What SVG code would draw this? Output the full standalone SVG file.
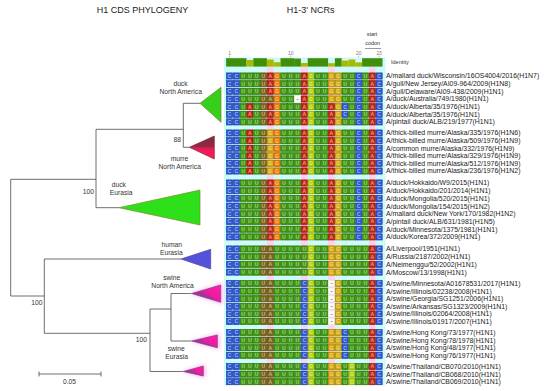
<svg xmlns="http://www.w3.org/2000/svg" width="550" height="391" viewBox="0 0 550 391">
<style>
text{font-family:"Liberation Sans",Arial,sans-serif}
.ttl{font-size:9px;fill:#222}
.tl{font-size:6.7px;fill:#333;text-anchor:middle}
.bs{font-size:6.7px;fill:#333;text-anchor:end}
.lab{font-size:6.9px;fill:#222}
.num{font-size:4.8px;fill:#777;text-anchor:middle}
.sc{font-size:5.5px;fill:#333;text-anchor:middle}
.idl{font-size:5.5px;fill:#333}
.br{stroke:#4a4a4a;stroke-width:0.8;fill:none}
.tk{stroke:#777;stroke-width:0.5}
.nt{font-size:5.2px;font-weight:bold;text-anchor:middle;fill:#fff;fill-opacity:.55}
.ng{font-size:5.2px;font-weight:bold;text-anchor:middle;fill:#444}
.k{stroke-width:.6}
.cC{fill:#2c58d8;stroke:#1b3a9e}
.cU{fill:#3c9a0a;stroke:#2a6e00}
.cA{fill:#c42010;stroke:#8c1200}
.cG{fill:#d8aa00;stroke:#a27c00}
.cGo{fill:#ee7c00;stroke:#b05a00}
.cGy{fill:#b4d000;stroke:#86a000}
.cO{fill:#7a6412;stroke:#56460a}
.cGp{fill:#fafafa;stroke:#e4e4e4}
.idf{fill:#3f8f0a}
.idp{fill:#a6ba00}
.pk{fill:#fbd3ea}
</style>
<defs>
<linearGradient id="gMur" x1="0" y1="0" x2="0" y2="1"><stop offset="0" stop-color="#7d2c3e"/><stop offset=".45" stop-color="#8e2a44"/><stop offset=".55" stop-color="#ee1a55"/><stop offset="1" stop-color="#ff1a5a"/></linearGradient>
<linearGradient id="gSw" x1="0" y1="1" x2="1" y2="0"><stop offset="0" stop-color="#8e3c9e"/><stop offset=".45" stop-color="#a83298"/><stop offset=".55" stop-color="#f01aa0"/><stop offset="1" stop-color="#ff20a8"/></linearGradient>
<filter id="blur" x="-30%" y="-30%" width="160%" height="160%"><feGaussianBlur stdDeviation="2"/></filter>
<g id="C"><rect class="cC k" x="0.3" y="-3.1" width="6.2" height="6.2"/><text class="nt" x="3.4" y="1.9">C</text></g>
<g id="U"><rect class="cU k" x="0.3" y="-3.1" width="6.2" height="6.2"/><text class="nt" x="3.4" y="1.9">U</text></g>
<g id="A"><rect class="cA k" x="0.3" y="-3.1" width="6.2" height="6.2"/><text class="nt" x="3.4" y="1.9">A</text></g>
<g id="G"><rect class="cG k" x="0.3" y="-3.1" width="6.2" height="6.2"/><text class="nt" x="3.4" y="1.9">G</text></g>
<g id="Go"><rect class="cGo k" x="0.3" y="-3.1" width="6.2" height="6.2"/><text class="nt" x="3.4" y="1.9">G</text></g>
<g id="Gy"><rect class="cGy k" x="0.3" y="-3.1" width="6.2" height="6.2"/><text class="nt" x="3.4" y="1.9">G</text></g>
<g id="Uo"><rect class="cO k" x="0.3" y="-3.1" width="6.2" height="6.2"/><text class="nt" x="3.4" y="1.9">U</text></g>
<g id="Ao"><rect class="cO k" x="0.3" y="-3.1" width="6.2" height="6.2"/><text class="nt" x="3.4" y="1.9">A</text></g>
<g id="Gp"><rect class="cGp k" x="0.3" y="-3.1" width="6.2" height="6.2"/><text class="ng" x="3.4" y="1.9">-</text></g>
<g id="rMal"><use href="#C" x="226.1"/><use href="#C" x="232.9"/><use href="#U" x="239.7"/><use href="#U" x="246.5"/><use href="#U" x="253.3"/><use href="#Uo" x="260.1"/><use href="#A" x="266.9"/><use href="#Go" x="273.7"/><use href="#U" x="280.5"/><use href="#U" x="287.3"/><use href="#U" x="294.1"/><use href="#A" x="300.9"/><use href="#Gy" x="307.7"/><use href="#U" x="314.5"/><use href="#U" x="321.3"/><use href="#G" x="328.1"/><use href="#G" x="334.9"/><use href="#U" x="341.7"/><use href="#U" x="348.5"/><use href="#C" x="355.3"/><use href="#U" x="362.1"/><use href="#A" x="368.9"/><use href="#C" x="375.7"/></g>
<g id="rAus"><use href="#C" x="226.1"/><use href="#C" x="232.9"/><use href="#U" x="239.7"/><use href="#U" x="246.5"/><use href="#U" x="253.3"/><use href="#Uo" x="260.1"/><use href="#Ao" x="266.9"/><use href="#Go" x="273.7"/><use href="#U" x="280.5"/><use href="#U" x="287.3"/><use href="#Gp" x="294.1"/><use href="#A" x="300.9"/><use href="#Gy" x="307.7"/><use href="#U" x="314.5"/><use href="#U" x="321.3"/><use href="#G" x="328.1"/><use href="#G" x="334.9"/><use href="#U" x="341.7"/><use href="#U" x="348.5"/><use href="#C" x="355.3"/><use href="#U" x="362.1"/><use href="#A" x="368.9"/><use href="#C" x="375.7"/></g>
<g id="rAlb"><use href="#C" x="226.1"/><use href="#C" x="232.9"/><use href="#U" x="239.7"/><use href="#A" x="246.5"/><use href="#U" x="253.3"/><use href="#Uo" x="260.1"/><use href="#A" x="266.9"/><use href="#Go" x="273.7"/><use href="#U" x="280.5"/><use href="#U" x="287.3"/><use href="#U" x="294.1"/><use href="#A" x="300.9"/><use href="#Gy" x="307.7"/><use href="#U" x="314.5"/><use href="#U" x="321.3"/><use href="#A" x="328.1"/><use href="#G" x="334.9"/><use href="#C" x="341.7"/><use href="#U" x="348.5"/><use href="#C" x="355.3"/><use href="#U" x="362.1"/><use href="#A" x="368.9"/><use href="#C" x="375.7"/></g>
<g id="rDEu"><use href="#C" x="226.1"/><use href="#C" x="232.9"/><use href="#U" x="239.7"/><use href="#U" x="246.5"/><use href="#U" x="253.3"/><use href="#Uo" x="260.1"/><use href="#A" x="266.9"/><use href="#Go" x="273.7"/><use href="#U" x="280.5"/><use href="#U" x="287.3"/><use href="#U" x="294.1"/><use href="#A" x="300.9"/><use href="#Gy" x="307.7"/><use href="#U" x="314.5"/><use href="#U" x="321.3"/><use href="#A" x="328.1"/><use href="#G" x="334.9"/><use href="#U" x="341.7"/><use href="#U" x="348.5"/><use href="#C" x="355.3"/><use href="#U" x="362.1"/><use href="#A" x="368.9"/><use href="#C" x="375.7"/></g>
<g id="rMur"><use href="#C" x="226.1"/><use href="#C" x="232.9"/><use href="#U" x="239.7"/><use href="#A" x="246.5"/><use href="#U" x="253.3"/><use href="#Uo" x="260.1"/><use href="#G" x="266.9"/><use href="#Go" x="273.7"/><use href="#U" x="280.5"/><use href="#U" x="287.3"/><use href="#U" x="294.1"/><use href="#A" x="300.9"/><use href="#Gy" x="307.7"/><use href="#U" x="314.5"/><use href="#U" x="321.3"/><use href="#A" x="328.1"/><use href="#G" x="334.9"/><use href="#U" x="341.7"/><use href="#U" x="348.5"/><use href="#C" x="355.3"/><use href="#U" x="362.1"/><use href="#A" x="368.9"/><use href="#C" x="375.7"/></g>
<g id="rHum"><use href="#C" x="226.1"/><use href="#C" x="232.9"/><use href="#U" x="239.7"/><use href="#U" x="246.5"/><use href="#U" x="253.3"/><use href="#Uo" x="260.1"/><use href="#Ao" x="266.9"/><use href="#U" x="273.7"/><use href="#U" x="280.5"/><use href="#U" x="287.3"/><use href="#U" x="294.1"/><use href="#U" x="300.9"/><use href="#Gy" x="307.7"/><use href="#U" x="314.5"/><use href="#U" x="321.3"/><use href="#G" x="328.1"/><use href="#G" x="334.9"/><use href="#U" x="341.7"/><use href="#U" x="348.5"/><use href="#U" x="355.3"/><use href="#U" x="362.1"/><use href="#A" x="368.9"/><use href="#C" x="375.7"/></g>
<g id="rSNA"><use href="#C" x="226.1"/><use href="#C" x="232.9"/><use href="#U" x="239.7"/><use href="#U" x="246.5"/><use href="#U" x="253.3"/><use href="#Uo" x="260.1"/><use href="#Ao" x="266.9"/><use href="#U" x="273.7"/><use href="#U" x="280.5"/><use href="#U" x="287.3"/><use href="#U" x="294.1"/><use href="#C" x="300.9"/><use href="#Gy" x="307.7"/><use href="#U" x="314.5"/><use href="#U" x="321.3"/><use href="#Gp" x="328.1"/><use href="#G" x="334.9"/><use href="#U" x="341.7"/><use href="#U" x="348.5"/><use href="#U" x="355.3"/><use href="#U" x="362.1"/><use href="#A" x="368.9"/><use href="#C" x="375.7"/></g>
<g id="rSHK"><use href="#C" x="226.1"/><use href="#C" x="232.9"/><use href="#U" x="239.7"/><use href="#U" x="246.5"/><use href="#U" x="253.3"/><use href="#Uo" x="260.1"/><use href="#Ao" x="266.9"/><use href="#U" x="273.7"/><use href="#U" x="280.5"/><use href="#U" x="287.3"/><use href="#U" x="294.1"/><use href="#C" x="300.9"/><use href="#Gy" x="307.7"/><use href="#U" x="314.5"/><use href="#U" x="321.3"/><use href="#G" x="328.1"/><use href="#G" x="334.9"/><use href="#C" x="341.7"/><use href="#U" x="348.5"/><use href="#U" x="355.3"/><use href="#U" x="362.1"/><use href="#A" x="368.9"/><use href="#C" x="375.7"/></g>
<g id="rSTH"><use href="#C" x="226.1"/><use href="#C" x="232.9"/><use href="#U" x="239.7"/><use href="#U" x="246.5"/><use href="#U" x="253.3"/><use href="#Uo" x="260.1"/><use href="#Ao" x="266.9"/><use href="#U" x="273.7"/><use href="#U" x="280.5"/><use href="#U" x="287.3"/><use href="#U" x="294.1"/><use href="#C" x="300.9"/><use href="#Gy" x="307.7"/><use href="#U" x="314.5"/><use href="#U" x="321.3"/><use href="#G" x="328.1"/><use href="#G" x="334.9"/><use href="#U" x="341.7"/><use href="#Gy" x="348.5"/><use href="#U" x="355.3"/><use href="#U" x="362.1"/><use href="#A" x="368.9"/><use href="#C" x="375.7"/></g>
</defs>
<rect width="550" height="391" fill="#fff"/>

<!-- titles -->
<text class="ttl" x="142.5" y="13" text-anchor="middle">H1 CDS PHYLOGENY</text>
<text class="ttl" x="286.7" y="13">H1-3' NCRs</text>

<!-- alignment header -->
<g id="header">
<rect x="224" y="57.5" width="161.5" height="327.5" fill="#cdfafa"/>
<rect class="pk" x="266.9" y="67" width="6.8" height="318"/>
<rect class="pk" x="300.9" y="67" width="6.8" height="318"/>
<rect class="pk" x="328.1" y="67" width="6.8" height="318"/>
<rect class="pk" x="368.9" y="67" width="6.8" height="318"/>
<text class="num" x="229.5" y="54.5">1</text>
<text class="num" x="290.7" y="54.5">10</text>
<text class="num" x="358.7" y="54.5">20</text>
<text class="num" x="379.1" y="54.5">23</text>
<line class="tk" x1="229.5" y1="55.6" x2="229.5" y2="57.2"/>
<line class="tk" x1="290.7" y1="55.6" x2="290.7" y2="57.2"/>
<line class="tk" x1="358.7" y1="55.6" x2="358.7" y2="57.2"/>
<line class="tk" x1="379.1" y1="55.6" x2="379.1" y2="57.2"/>
<text class="sc" x="372" y="36">start</text>
<text class="sc" x="372.7" y="45">codon</text>
<line x1="365" y1="48.5" x2="381" y2="48.5" stroke="#333" stroke-width="0.5"/>
<g id="identity">
<rect class="idf" x="226.1" y="58.2" width="20.4" height="8.4"/>
<rect class="idp" x="246.5" y="60" width="6.8" height="6.6"/>
<rect class="idf" x="253.3" y="58.2" width="13.6" height="8.4"/>
<rect class="idp" x="266.9" y="59.5" width="6.8" height="7.1"/>
<rect class="idp" x="273.7" y="62.2" width="6.8" height="4.4"/>
<rect class="idf" x="280.5" y="58.2" width="13.6" height="8.4"/>
<rect class="idf" x="294.1" y="58.6" width="6.8" height="8"/>
<rect class="idp" x="300.9" y="63" width="6.8" height="3.6"/>
<rect class="idf" x="307.7" y="58.2" width="20.4" height="8.4"/>
<rect class="idp" x="328.1" y="63.2" width="6.8" height="3.4"/>
<rect class="idf" x="334.9" y="58.2" width="6.8" height="8.4"/>
<rect class="idp" x="341.7" y="60.6" width="6.8" height="6"/>
<rect class="idp" x="348.5" y="59.5" width="6.8" height="7.1"/>
<rect class="idp" x="355.3" y="62.4" width="6.8" height="4.2"/>
<rect class="idf" x="362.1" y="58.2" width="20.4" height="8.4"/>
<text class="idl" x="391" y="64">Identity</text>
</g>
</g>

<!-- alignment rows -->
<g id="alignment">
<g id="row01"><use href="#rMal" y="76"/><text class="lab" x="386" y="78.4">A/mallard duck/Wisconsin/16OS4004/2016(H1N7)</text></g>
<g id="row02"><use href="#rMal" y="83.7"/><text class="lab" x="386" y="86.1">A/gull/New Jersey/AI09-964/2009(H1N8)</text></g>
<g id="row03"><use href="#rMal" y="91.3"/><text class="lab" x="386" y="93.7">A/gull/Delaware/AI09-438/2009(H1N1)</text></g>
<g id="row04"><use href="#rAus" y="99"/><text class="lab" x="386" y="101.4">A/duck/Australia/749/1980(H1N1)</text></g>
<g id="row05"><use href="#rAlb" y="106.6"/><text class="lab" x="386" y="109">A/duck/Alberta/35/1976(H1N1)</text></g>
<g id="row06"><use href="#rAlb" y="114.3"/><text class="lab" x="386" y="116.7">A/duck/Alberta/35/1976(H1N1)</text></g>
<g id="row07"><use href="#rDEu" y="121.9"/><text class="lab" x="386" y="124.3">A/pintail duck/ALB/219/1977(H1N1)</text></g>

<g id="row08"><use href="#rMur" y="133"/><text class="lab" x="386" y="135.4">A/thick-billed murre/Alaska/335/1976(H1N6)</text></g>
<g id="row09"><use href="#rMur" y="140.6"/><text class="lab" x="386" y="143">A/thick-billed murre/Alaska/509/1976(H1N9)</text></g>
<g id="row10"><use href="#rMur" y="148.2"/><text class="lab" x="386" y="150.6">A/common murre/Alaska/332/1976(H1N9)</text></g>
<g id="row11"><use href="#rMur" y="155.8"/><text class="lab" x="386" y="158.2">A/thick-billed murre/Alaska/329/1976(H1N9)</text></g>
<g id="row12"><use href="#rMur" y="163.4"/><text class="lab" x="386" y="165.8">A/thick-billed murre/Alaska/512/1976(H1N9)</text></g>
<g id="row13"><use href="#rMur" y="171"/><text class="lab" x="386" y="173.4">A/thick-billed murre/Alaska/236/1976(H1N2)</text></g>

<g id="row14"><use href="#rDEu" y="183"/><text class="lab" x="386" y="185.4">A/duck/Hokkaido/W9/2015(H1N1)</text></g>
<g id="row15"><use href="#rDEu" y="190.7"/><text class="lab" x="386" y="193.1">A/duck/Hokkaido/201/2014(H1N1)</text></g>
<g id="row16"><use href="#rDEu" y="198.4"/><text class="lab" x="386" y="200.8">A/duck/Mongolia/520/2015(H1N1)</text></g>
<g id="row17"><use href="#rDEu" y="206.1"/><text class="lab" x="386" y="208.5">A/duck/Mongolia/154/2015(H1N2)</text></g>
<g id="row18"><use href="#rDEu" y="213.8"/><text class="lab" x="386" y="216.2">A/mallard duck/New York/170/1982(H1N2)</text></g>
<g id="row19"><use href="#rDEu" y="221.5"/><text class="lab" x="386" y="223.9">A/pintail duck/ALB/631/1981(H1N5)</text></g>
<g id="row20"><use href="#rDEu" y="229.2"/><text class="lab" x="386" y="231.6">A/duck/Minnesota/1375/1981(H1N1)</text></g>
<g id="row21"><use href="#rDEu" y="236.9"/><text class="lab" x="386" y="239.3">A/duck/Korea/372/2009(H1N1)</text></g>

<g id="row22"><use href="#rHum" y="249"/><text class="lab" x="386" y="251.4">A/Liverpool/1951(H1N1)</text></g>
<g id="row23"><use href="#rHum" y="256.7"/><text class="lab" x="386" y="259.1">A/Russia/2187/2002(H1N1)</text></g>
<g id="row24"><use href="#rHum" y="264.4"/><text class="lab" x="386" y="266.8">A/Neimenggu/52/2002(H1N1)</text></g>
<g id="row25"><use href="#rHum" y="272.1"/><text class="lab" x="386" y="274.5">A/Moscow/13/1998(H1N1)</text></g>

<g id="row26"><use href="#rSNA" y="283.5"/><text class="lab" x="386" y="285.9">A/swine/Minnesota/A01678531/2017(H1N1)</text></g>
<g id="row27"><use href="#rSNA" y="291.1"/><text class="lab" x="386" y="293.5">A/swine/Illinois/02238/2008(H1N1)</text></g>
<g id="row28"><use href="#rSNA" y="298.7"/><text class="lab" x="386" y="301.1">A/swine/Georgia/SG1251/2006(H1N1)</text></g>
<g id="row29"><use href="#rSNA" y="306.3"/><text class="lab" x="386" y="308.7">A/swine/Arkansas/SG1323/2009(H1N1)</text></g>
<g id="row30"><use href="#rSNA" y="313.9"/><text class="lab" x="386" y="316.3">A/swine/Illinois/02064/2008(H1N1)</text></g>
<g id="row31"><use href="#rSNA" y="321.5"/><text class="lab" x="386" y="323.9">A/swine/Illinois/01917/2007(H1N1)</text></g>

<g id="row32"><use href="#rSHK" y="332.5"/><text class="lab" x="386" y="334.9">A/swine/Hong Kong/73/1977(H1N1)</text></g>
<g id="row33"><use href="#rSHK" y="340.1"/><text class="lab" x="386" y="342.5">A/swine/Hong Kong/78/1978(H1N1)</text></g>
<g id="row34"><use href="#rSHK" y="347.7"/><text class="lab" x="386" y="350.1">A/swine/Hong Kong/48/1977(H1N1)</text></g>
<g id="row35"><use href="#rSHK" y="355.3"/><text class="lab" x="386" y="357.7">A/swine/Hong Kong/76/1977(H1N1)</text></g>

<g id="row36"><use href="#rSTH" y="366.5"/><text class="lab" x="386" y="368.9">A/swine/Thailand/CB070/2010(H1N1)</text></g>
<g id="row37"><use href="#rSTH" y="374.1"/><text class="lab" x="386" y="376.5">A/swine/Thailand/CB068/2010(H1N1)</text></g>
<g id="row38"><use href="#rSTH" y="381.7"/><text class="lab" x="386" y="384.1">A/swine/Thailand/CB069/2010(H1N1)</text></g>
</g>

<!-- tree connectors -->
<g id="connectors" class="br">
<path d="M10.7,179.3V296"/>
<path d="M10.7,179.3H96"/>
<path d="M96,129.3V207.7"/>
<path d="M96,129.3H183.3"/>
<path d="M183.3,103.3V147.3"/>
<path d="M183.3,103.3H200"/>
<path d="M183.3,147.3H189.3"/>
<path d="M96,207.7H119"/>
<path d="M10.7,296H44.3"/>
<path d="M44.3,259V333.3"/>
<path d="M44.3,259H181"/>
<path d="M44.3,333.3H150"/>
<path d="M150,309V371.5"/>
<path d="M150,309H171"/>
<path d="M171,293.5V341"/>
<path d="M171,293.5H191.7"/>
<path d="M171,341H191.7"/>
<path d="M150,371.5H183.3"/>
</g>

<!-- bootstrap values -->
<g id="bootstrap">
<text class="bs" x="181" y="142.3">88</text>
<text class="bs" x="94" y="194">100</text>
<text class="bs" x="42.5" y="305">100</text>
<text class="bs" x="147" y="342.3">100</text>
</g>

<!-- clades -->
<g id="clade-duck-na">
<polygon points="200,103.3 221,87.3 221,122.3" fill="#35cf1c" stroke="#6a8a2a" stroke-width="0.7"/>
<text class="tl" x="180.5" y="85.6">duck</text>
<text class="tl" x="180.7" y="94">North America</text>
</g>
<g id="clade-murre-na">
<polygon points="189.3,147.3 214.3,136 214.3,159" fill="url(#gMur)" stroke="#7a2a3a" stroke-width="0.7"/>
<text class="tl" x="179.5" y="161.3">murre</text>
<text class="tl" x="179.7" y="169">North America</text>
</g>
<g id="clade-duck-eurasia">
<polygon points="119,207.7 200,190 200,225" fill="#2ee01a" stroke="#7a8a2a" stroke-width="0.7"/>
<text class="tl" x="118.8" y="186.6">duck</text>
<text class="tl" x="121.2" y="194.6">Eurasia</text>
</g>
<g id="clade-human-eurasia">
<polygon points="181,259 210.7,249.3 210.7,269" fill="#5353da" stroke="#55449a" stroke-width="0.7"/>
<text class="tl" x="171.7" y="247.3">human</text>
<text class="tl" x="171.3" y="255.3">Eurasia</text>
</g>
<g id="clade-swine-na">
<polygon points="189,293.5 223,283 223,304.5" fill="#f8bfe8" filter="url(#blur)"/>
<polygon points="191.7,293.5 220.7,285 220.7,302.3" fill="url(#gSw)" stroke="#7e3c8c" stroke-width="0.7"/>
<text class="tl" x="171.7" y="279.6">swine</text>
<text class="tl" x="172.5" y="288">North America</text>
</g>
<g id="clade-swine-hk">
<polygon points="189,341 219.5,333 219.5,349.7" fill="#f8bfe8" filter="url(#blur)"/>
<polygon points="191.7,341 217.3,335 217.3,347.7" fill="url(#gSw)" stroke="#7e3c8c" stroke-width="0.7"/>
<text class="tl" x="176.2" y="351">swine</text>
<text class="tl" x="176.7" y="359">Eurasia</text>
</g>
<g id="clade-swine-th">
<polygon points="181,371.5 205.5,364.5 205.5,378" fill="#f8bfe8" filter="url(#blur)"/>
<polygon points="183.3,371.5 203.3,366 203.3,376" fill="url(#gSw)" stroke="#7e3c8c" stroke-width="0.7"/>
</g>

<!-- scale bar -->
<g id="scale">
<path class="br" d="M39,374H101M39,371.5V376.5M101,371.5V376.5"/>
<text class="tl" x="69.5" y="383.6">0.05</text>
</g>
</svg>
